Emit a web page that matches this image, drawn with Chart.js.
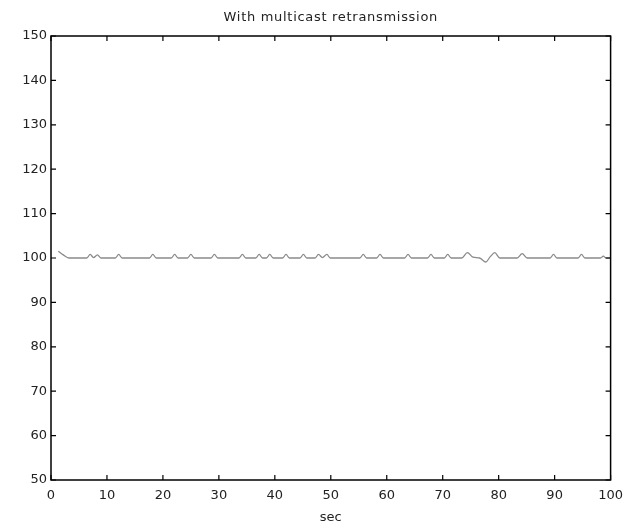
<!DOCTYPE html>
<html>
<head>
<meta charset="utf-8">
<script src="https://cdn.jsdelivr.net/npm/chart.js@4/dist/chart.umd.min.js"></script>
<style>
    html, body { margin: 0; padding: 0; background: #fff; }
    #wrap { width: 631px; height: 527px; }
</style>
</head>
<body>
<div id="wrap"><canvas id="chart"></canvas></div>
<script>
const chartTitle = 'With multicast retransmission';
const xLabel = 'sec';

// time (sec) and value
const secs = [
    1.3, 2.2, 3.2,
    6.4, 7.0, 7.6, 8.3, 8.9,
    11.5, 12.1, 12.7,
    17.6, 18.2, 18.8,
    21.5, 22.1, 22.7,
    24.4, 25.0, 25.6,
    28.6, 29.2, 29.8,
    33.6, 34.2, 34.8,
    36.6, 37.2, 37.8,
    38.5, 39.1, 39.7,
    41.4, 42.0, 42.6,
    44.5, 45.1, 45.7,
    47.2, 47.8, 48.5, 49.3, 49.9,
    55.2, 55.8, 56.4,
    58.2, 58.8, 59.4,
    63.2, 63.8, 64.4,
    67.3, 67.9, 68.5,
    70.3, 70.9, 71.5,
    73.4, 74.4, 75.4, 76.6, 77.7, 78.5, 79.3, 80.2,
    83.3, 84.2, 85.1,
    89.2, 89.8, 90.4,
    94.2, 94.8, 95.4,
    98.2, 98.7, 99.2, 100
];
const values = [
    101.5, 100.7, 100,
    100, 100.8, 100.1, 100.7, 100,
    100, 100.8, 100,
    100, 100.8, 100,
    100, 100.8, 100,
    100, 100.8, 100,
    100, 100.8, 100,
    100, 100.8, 100,
    100, 100.8, 100,
    100, 100.8, 100,
    100, 100.8, 100,
    100, 100.8, 100,
    100, 100.8, 100.1, 100.8, 100,
    100, 100.8, 100,
    100, 100.8, 100,
    100, 100.8, 100,
    100, 100.8, 100,
    100, 100.8, 100,
    100, 101.2, 100.2, 100, 99.1, 100.3, 101.2, 100,
    100, 101.0, 100,
    100, 100.8, 100,
    100, 100.8, 100,
    100, 100.4, 100, 100
];

const xTicks = [0, 10, 20, 30, 40, 50, 60, 70, 80, 90, 100];
const yTicks = [50, 60, 70, 80, 90, 100, 110, 120, 130, 140, 150];

const FONT = 'DejaVu Sans';

// MATLAB-like box with inward ticks + title
const framePlugin = {
    id: 'frame',
    beforeDraw(chart) {
        const ctx = chart.ctx;
        ctx.save();
        ctx.fillStyle = '#fff';
        ctx.fillRect(0, 0, chart.width, chart.height);
        ctx.restore();
    },
    afterDraw(chart) {
        const { ctx, chartArea: a, scales } = chart;
        const tl = 5;
        ctx.save();
        ctx.strokeStyle = '#000';
        ctx.lineWidth = 1.5;
        ctx.strokeRect(a.left, a.top, a.right - a.left, a.bottom - a.top);
        ctx.lineWidth = 1.2;
        ctx.beginPath();
        xTicks.forEach(v => {
            const px = scales.x.getPixelForValue(v);
            ctx.moveTo(px, a.bottom); ctx.lineTo(px, a.bottom - tl);
            ctx.moveTo(px, a.top); ctx.lineTo(px, a.top + tl);
        });
        yTicks.forEach(v => {
            const py = scales.y.getPixelForValue(v);
            ctx.moveTo(a.left, py); ctx.lineTo(a.left + tl, py);
            ctx.moveTo(a.right, py); ctx.lineTo(a.right - tl, py);
        });
        ctx.stroke();

        ctx.fillStyle = '#222';
        ctx.font = `13px "${FONT}"`;
        ctx.letterSpacing = '0.7px';
        ctx.textAlign = 'center';
        ctx.textBaseline = 'middle';
        ctx.fillText(chartTitle, (a.left + a.right) / 2, 18);
        ctx.restore();
    }
};

new Chart(document.getElementById('chart'), {
    type: 'line',
    data: {
        datasets: [{
            data: secs.map((s, i) => ({ x: s, y: values[i] })),
            borderColor: '#8a8a8a',
            borderWidth: 1.3,
            pointRadius: 0,
            cubicInterpolationMode: 'monotone',
            fill: false
        }]
    },
    options: {
        responsive: true,
        maintainAspectRatio: false,
        animation: false,
        layout: { padding: { top: 36, right: 17, left: 0, bottom: 0 } },
        plugins: {
            legend: { display: false },
            tooltip: { enabled: false }
        },
        scales: {
            x: {
                type: 'linear',
                min: 0,
                max: 100,
                afterFit: s => { s.height = 47; },
                afterBuildTicks: s => { s.ticks = xTicks.map(v => ({ value: v })); },
                grid: { display: false, drawTicks: false },
                border: { display: false },
                ticks: { color: '#222', font: { family: FONT, size: 13 }, padding: 8, maxRotation: 0 },
                title: { display: true, text: xLabel, color: '#222', font: { family: FONT, size: 13 }, padding: { top: 0, bottom: 2 } }
            },
            y: {
                min: 50,
                max: 150,
                afterFit: s => { s.width = 51; },
                afterBuildTicks: s => { s.ticks = yTicks.map(v => ({ value: v })); },
                grid: { display: false, drawTicks: false },
                border: { display: false },
                ticks: { color: '#222', font: { family: FONT, size: 13 }, padding: 4 }
            }
        }
    },
    plugins: [framePlugin]
});
</script>
</body>
</html>
